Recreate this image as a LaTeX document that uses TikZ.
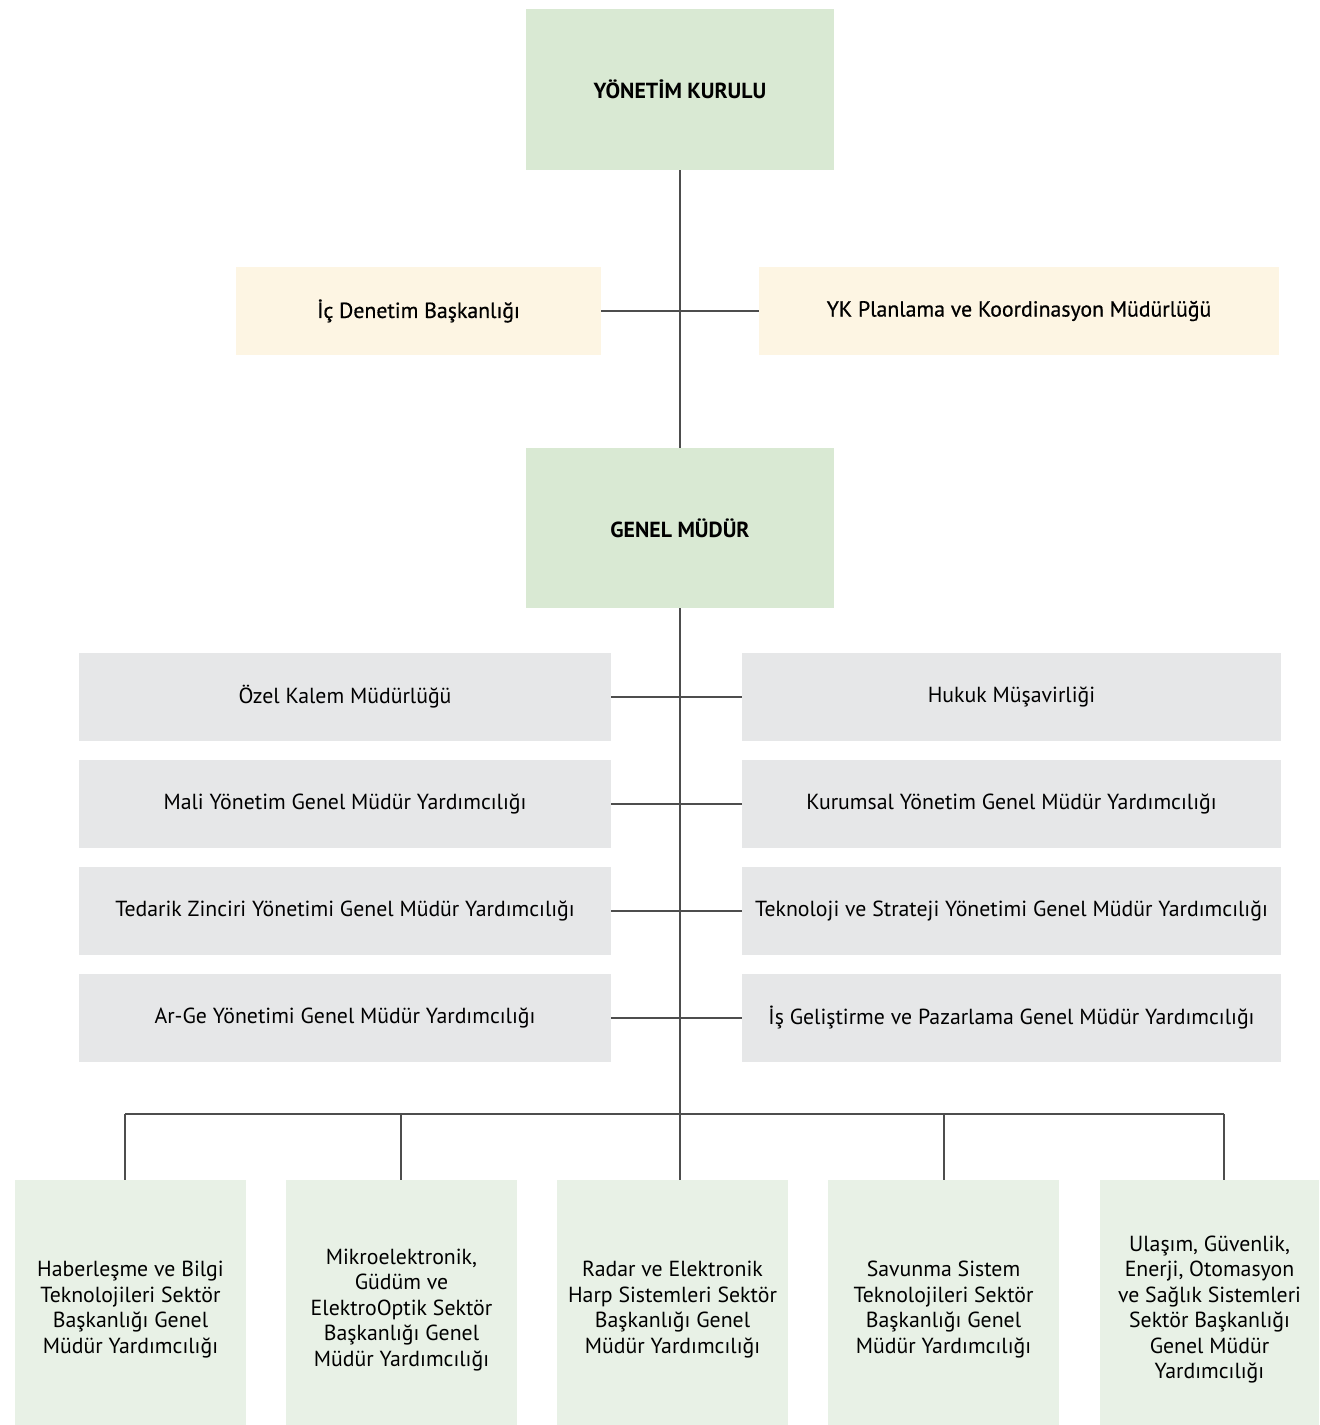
\documentclass[tikz,border=0pt]{standalone}
\usepackage{fontspec}
\setmainfont{PT Sans}
\newfontfamily\medfont[FakeBold=0.7]{PT Sans}
\usetikzlibrary{positioning}

\definecolor{headgreen}{HTML}{D9E9D3}
\definecolor{sectorgreen}{HTML}{E8F1E6}
\definecolor{staffcream}{HTML}{FDF5E3}
\definecolor{unitgray}{HTML}{E6E7E8}
\definecolor{linegray}{HTML}{4D4D4D}

% extra room above the first line of a sector box
\newcommand{\sectorgap}{\rule{0pt}{15pt}}

\begin{document}
\begin{tikzpicture}
		[x=0.5pt, y=-0.5pt,
		box/.style={inner sep=0pt, outer sep=0pt, align=center, text=black, font=\fontsize{10.9}{12.75}\selectfont},
		head/.style={box, fill=headgreen, minimum width=154pt, minimum height=80.5pt, font=\fontsize{10.9}{12.75}\selectfont\bfseries},
		staff/.style={box, fill=staffcream, minimum height=44pt, font=\fontsize{10.9}{12.75}\medfont},
		unit/.style={box, fill=unitgray, minimum height=44pt},
		sector/.style={box, fill=sectorgreen, minimum width=115.5pt, minimum height=122.5pt},
		link/.style={draw=linegray, line width=0.55pt}]
		\useasboundingbox (0,0) rectangle (1319,1425);

		\node[head] (yk) at (680,89.5) {YÖNETİM KURULU};
		\node[staff, minimum width=182.5pt] (icd) at (418.5,311) {İç Denetim Başkanlığı};
		\node[staff, minimum width=260pt] (ykp) at (1019,311) {YK Planlama ve Koordinasyon Müdürlüğü};
		\node[head, minimum height=80pt] (gm) at (680,528) {GENEL MÜDÜR};

		\node[unit, minimum width=266pt] (ozel) at (345,697) {Özel Kalem Müdürlüğü};
		\node[unit, minimum width=266pt, below=9.5pt of ozel] (mali) {Mali Yönetim Genel Müdür Yardımcılığı};
		\node[unit, minimum width=266pt, below=9.5pt of mali] (tedarik) {Tedarik Zinciri Yönetimi Genel Müdür Yardımcılığı};
		\node[unit, minimum width=266pt, below=9.5pt of tedarik] (arge) {Ar-Ge Yönetimi Genel Müdür Yardımcılığı};

		\node[unit, minimum width=269.5pt] (hukuk) at (1011.5,697) {Hukuk Müşavirliği};
		\node[unit, minimum width=269.5pt, below=9.5pt of hukuk] (kurumsal) {Kurumsal Yönetim Genel Müdür Yardımcılığı};
		\node[unit, minimum width=269.5pt, below=9.5pt of kurumsal] (tsy) {Teknoloji ve Strateji Yönetimi Genel Müdür Yardımcılığı};
		\node[unit, minimum width=269.5pt, below=9.5pt of tsy] (isgel) {İş Geliştirme ve Pazarlama Genel Müdür Yardımcılığı};

		\node[sector] (hbt) at (130.5,1302.5) {\sectorgap Haberleşme ve Bilgi\\Teknolojileri Sektör\\Başkanlığı Genel\\Müdür Yardımcılığı};
		\node[sector, right=20pt of hbt] (mgeo) {\sectorgap Mikroelektronik,\\Güdüm ve\\ElektroOptik Sektör\\Başkanlığı Genel\\Müdür Yardımcılığı};
		\node[sector, right=20pt of mgeo] (rehis) {\sectorgap Radar ve Elektronik\\Harp Sistemleri Sektör\\Başkanlığı Genel\\Müdür Yardımcılığı};
		\node[sector, right=20pt of rehis] (sst) {\sectorgap Savunma Sistem\\Teknolojileri Sektör\\Başkanlığı Genel\\Müdür Yardımcılığı};
		\node[sector, minimum width=109.5pt, right=20.5pt of sst] (uges) {\sectorgap Ulaşım, Güvenlik,\\Enerji, Otomasyon\\ve Sağlık Sistemleri\\Sektör Başkanlığı\\Genel Müdür\\Yardımcılığı};

		\coordinate (busL) at (125,1114);
		\coordinate (bus2) at (401,1114);
		\coordinate (bus4) at (944,1114);
		\coordinate (busR) at (1224,1114);

		\draw[link] (yk) to (gm);
		\draw[link] (icd) to (ykp);
		\draw[link] (gm) to (gm.south |- rehis.north);

		\draw[link] (ozel) to (hukuk);
		\draw[link] (mali) to (kurumsal);
		\draw[link] (tedarik) to (tsy);
		\draw[link] (arge) to (isgel);

		\draw[link] (busL) to (busR);
		\draw[link] (busL) to (busL |- hbt.north);
		\draw[link] (bus2) to (bus2 |- mgeo.north);
		\draw[link] (bus4) to (bus4 |- sst.north);
		\draw[link] (busR) to (busR |- uges.north);
	\end{tikzpicture}
\end{document}
